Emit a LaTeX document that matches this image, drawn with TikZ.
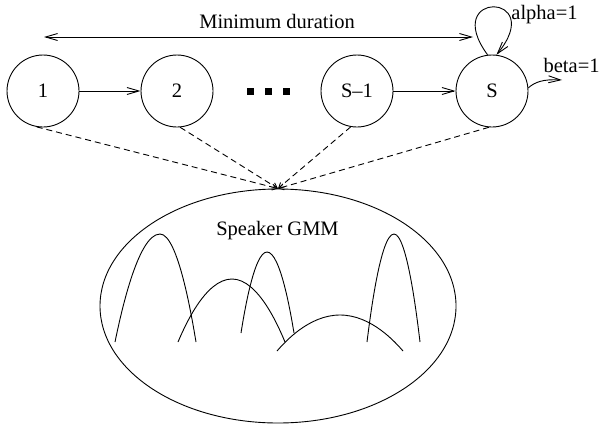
\documentclass[tikz,border=0pt]{standalone}
\usepackage{fontspec}
\setmainfont{Liberation Serif}
\usetikzlibrary{arrows.meta,shapes.geometric}
\begin{document}
\begin{tikzpicture}[x=1pt,y=-1pt,
  line width=0.9pt,
  every node/.style={font=\fontsize{20.5}{24}\selectfont,inner sep=0pt},
  state/.style={draw,circle,minimum size=72pt},
  tip/.style={-{Straight Barb[length=12pt,width=7pt]}},
  both/.style={{Straight Barb[length=12pt,width=7pt]}-{Straight Barb[length=12pt,width=7pt]}},
  link/.style={dash pattern=on 6pt off 4pt,-{Straight Barb[length=5pt,width=6pt]}},
  dot/.style={fill=black,minimum size=7pt},
  model/.style={draw,ellipse,minimum width=356pt,minimum height=234pt}
]
\useasboundingbox (0,0) rectangle (601,423);

% HMM states
\node[state] (c1) at (43,91) {1};
\node[state] (c2) at (177,91) {2};
\node[state] (c3) at (357,91) {S–1};
\node[state] (cS) at (492,91) {S};

% ellipsis between state 2 and S-1
\node[dot] (d1) at (250,91) {};
\node[dot] (d2) at (268,91) {};
\node[dot] (d3) at (286,91) {};

% transitions
\draw[tip] (c1) -- (c2);
\draw[tip] (c3) -- (cS);
\draw[tip] (cS.97) .. controls (440,-10) and (548,-8) .. (cS.83);
\coordinate (betaend) at (562,80);
\draw[tip] (cS.5) .. controls (535,82) and (543,79) .. (betaend);
\node[anchor=base] (alpha) at (544.5,19) {alpha=1};
\node[anchor=base east] (beta) at (600,72) {beta=1};

% minimum duration span
\coordinate (mdl) at (44,37);
\coordinate (mdr) at (473,37);
\draw[both] (mdl) -- (mdr);
\node[anchor=base] (mdlabel) at (277,28) {Minimum duration};

% shared speaker model
\node[model] (gmm) at (278,306) {};
\node[anchor=base] (gmmlabel) at (277.5,235) {Speaker GMM};

% state-to-model links
\draw[link] (c1.260) -- (gmm.north);
\draw[link] (c2.275) -- (gmm.north);
\draw[link] (c3.260) -- (gmm.north);
\draw[link] (cS.265) -- (gmm.north);

% mixture components
\draw (115,342) parabola bend (160,234) (196,342);
\draw (178,342) parabola bend (232,279) (285,342);
\draw (241,333) parabola bend (267,252) (294,333);
\draw (277,351) parabola bend (340,315) (403,351);
\draw (367,342) parabola bend (394,234) (420,342);
\end{tikzpicture}
\end{document}
